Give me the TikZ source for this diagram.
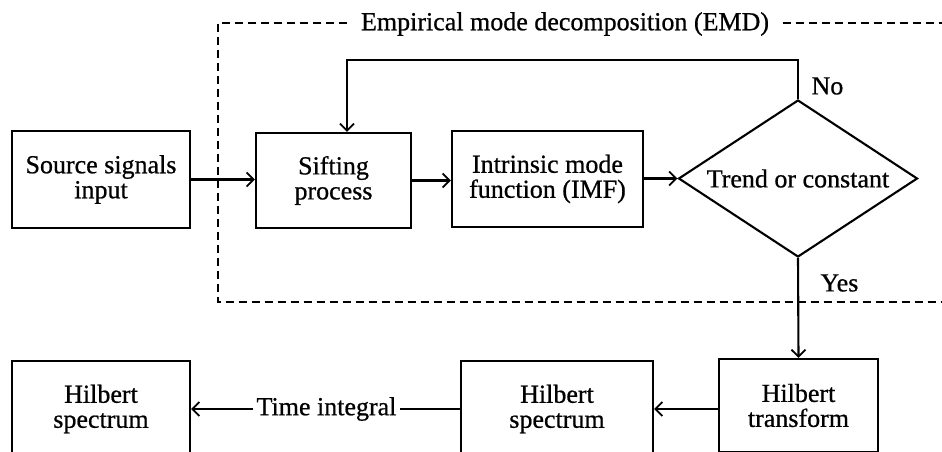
\documentclass[tikz,border=0pt]{standalone}
\usepackage{fontspec}
\setmainfont[FakeBold=0.7,AutoFakeBold=0.7]{Liberation Serif}
\usetikzlibrary{arrows.meta,shapes.geometric}
\begin{document}
\begin{tikzpicture}[x=1pt,y=-1pt,
  every node/.style={font=\fontsize{26}{25}\selectfont\bfseries},
  box/.style={draw, line width=2.1pt, inner sep=0pt, align=center},
  conn/.style={line width=2.1pt, -{Straight Barb[length=7pt,width=14pt,line width=1.8pt]}},
  dashbox/.style={line width=2.1pt, dash pattern=on 8pt off 5pt}]
\useasboundingbox (0,0) rectangle (942,452);
\clip (0,0) rectangle (942,452);
% top row
\node[box, minimum width=178pt, minimum height=97pt] (src) at (101,179.5) {Source signals\\input};
\node[box, minimum width=155pt, minimum height=95pt] (sift) at (333.5,180.5) {Sifting\\process};
\node[box, minimum width=191pt, minimum height=96pt] (imf) at (547.5,179) {Intrinsic mode\\function (IMF)};
\node[draw, diamond, line width=2.1pt, inner sep=0pt, minimum width=239pt, minimum height=157pt] (dec) at (798,178.5) {};
\node (dectext) at (dec.center) {Trend or constant};
% bottom row
\node[box, minimum width=159pt, minimum height=93pt] (ht) at (798.5,405.5) {Hilbert\\transform};
\node[box, minimum width=192pt, minimum height=96pt] (hsm) at (557,409) {Hilbert\\spectrum};
\node[box, minimum width=178pt, minimum height=96pt] (hsl) at (101,409) {Hilbert\\spectrum};
% EMD dashed frame
\node (emd) at (565,24) {Empirical mode decomposition (EMD)};
\coordinate (fTL) at (218,23);
\coordinate (fBL) at (218,302);
\coordinate (fBR) at (960,302);
\coordinate (fTR) at (960,23);
\draw[dashbox] (emd.west |- fTL) ++(-10,0) -- (fTL) -- (fBL) -- (fBR);
\draw[dashbox] (emd.east |- fTR) ++(10,0) -- (fTR);
% connectors
\draw[conn] (src.east) -- (src.east -| sift.west);
\draw[conn] (sift.east) -- (sift.east -| imf.west);
\draw[conn] (imf.east |- dec.west) -- (dec.west);
\coordinate (fb) at (347,60);
\draw[conn] (dec.north) |- (fb) -- (fb |- sift.north);
\node[anchor=west] (no) at (808,86) {No};
\draw[conn] (dec.south) -- (ht.north);
\node[anchor=west] (yes) at (817,283) {Yes};
\draw[conn] (ht.west |- hsm.east) -- (hsm.east);
\draw[conn] (hsm.west) -- (hsl.east) node[midway, fill=white, inner xsep=4pt, xshift=1pt] (ti) {Time integral};
\end{tikzpicture}
\end{document}
